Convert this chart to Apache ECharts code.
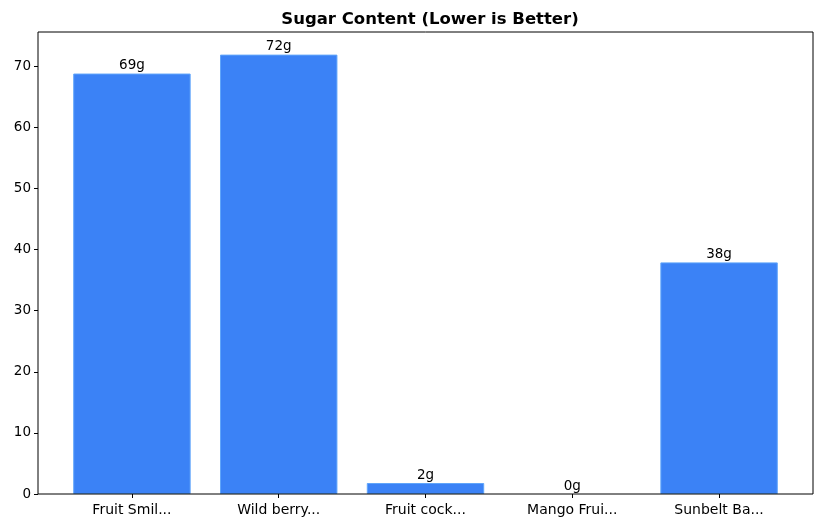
<!DOCTYPE html>
<html>
<head>
<meta charset="utf-8">
<script src="https://cdn.jsdelivr.net/npm/echarts@6/dist/echarts.min.js"></script>
<style>html,body{margin:0;padding:0;background:#fff}#c{width:822px;height:528px}</style>
</head>
<body>
<div id="c"></div>
<script>
const categories = ["Fruit Smil...", "Wild berry...", "Fruit cock...", "Mango Frui...", "Sunbelt Ba..."];
const sugar = [68.8, 71.9, 1.8, 0, 37.9];
const yTicks = [0, 10, 20, 30, 40, 50, 60, 70];

const font = "DejaVu Sans";
const chart = echarts.init(document.getElementById('c'), null, {renderer: 'canvas'});
chart.setOption({
  animation: false,
  backgroundColor: '#fff',
  title: {
    text: 'Sugar Content (Lower is Better)',
    left: 425, top: 6, textAlign: 'center',
    textStyle: {fontFamily: font, fontWeight: 'bold', fontSize: 16.5, color: '#000'}
  },
  grid: [
    {left: 38, right: 9, top: 32, bottom: 34, show: true, borderColor: '#000', borderWidth: 1, backgroundColor: 'transparent', z: 5},
    {left: 58.55, right: 29.55, top: 32, bottom: 34}
  ],
  xAxis: [
    {type: 'value', gridIndex: 0, show: false, min: 0, max: 1},
    {type: 'category', gridIndex: 1, data: categories,
     axisLine: {show: false},
     axisTick: {show: true, alignWithLabel: true, length: 4, lineStyle: {color: '#000'}},
     axisLabel: {color: '#000', fontFamily: font, fontSize: 14, margin: 9}}
  ],
  yAxis: [
    {type: 'value', gridIndex: 0, min: 0, max: 75.6, interval: 10,
     axisLine: {show: false},
     axisTick: {show: true, length: 4, lineStyle: {color: '#000'}, customValues: yTicks},
     splitLine: {show: false},
     axisLabel: {color: '#000', fontFamily: font, fontSize: 13.5, margin: 7, customValues: yTicks}},
    {type: 'value', gridIndex: 1, min: 0, max: 75.6, show: false, splitLine: {show: false}}
  ],
  series: [{
    type: 'bar', xAxisIndex: 1, yAxisIndex: 1,
    data: sugar.map(v => v === 0 ? {value: v, itemStyle: {borderWidth: 0}} : v),
    barWidth: '80%',
    itemStyle: {color: '#3b82f6', borderColor: '#60a5fa', borderWidth: 1},
    label: {show: true, position: 'top', distance: 1, color: '#000', fontFamily: font, fontSize: 13.5,
      formatter: p => Math.round(p.value) + 'g'}
  }]
});
</script>
</body>
</html>
